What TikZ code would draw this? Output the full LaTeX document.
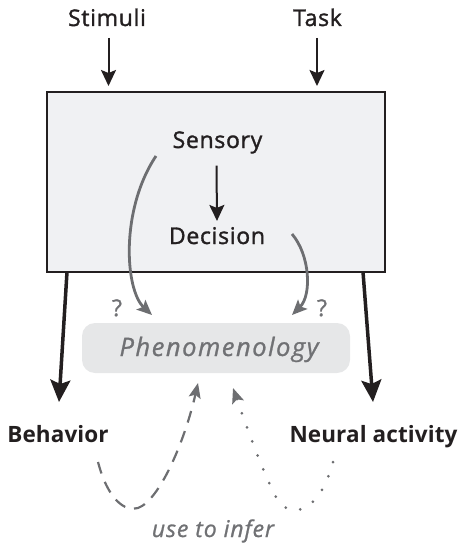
\documentclass[tikz,border=0pt]{standalone}
\usepackage{fontspec}
\setmainfont{Open Sans}
\newfontfamily\rfont{Open Sans}[LetterSpace=3,FakeBold=1.4]
\newfontfamily\ifont{Open Sans}[LetterSpace=6,FakeBold=1]
\newfontfamily\uifont{Open Sans}[LetterSpace=4,FakeBold=1]
\newfontfamily\bfont{Open Sans}[LetterSpace=0.5]
\usetikzlibrary{arrows.meta,calc}
\definecolor{boxfill}{HTML}{F0F1F3}
\definecolor{phenfill}{HTML}{E6E7E8}
\definecolor{curvegray}{HTML}{6D6E71}
\definecolor{textgray}{HTML}{707174}
\definecolor{ink}{HTML}{231F20}
\tikzset{
  lbl/.style={anchor=base,inner sep=0pt,font=\rfont\fontsize{23}{26}\selectfont,text=ink},
  blbl/.style={lbl,font=\bfont\fontsize{22.5}{26}\selectfont\bfseries},
  qlbl/.style={lbl,text=textgray},
  thin arrow/.style={draw=ink,line width=2pt,-{Stealth[length=16pt,width=15pt,inset=3pt]}},
  thick arrow/.style={draw=ink,line width=3.5pt,-{Stealth[length=22pt,width=20pt,inset=4pt]}},
  gray arrow/.style={draw=curvegray,line width=2.8pt,-{Stealth[length=15pt,width=13pt,inset=3pt]}},
  infer line/.style={draw=curvegray,line width=2.2pt,-{Stealth[length=15pt,width=12pt,inset=3pt]}},
}
\begin{document}
\begin{tikzpicture}[x=1pt,y=-1pt]
\useasboundingbox (0,0) rectangle (459,543);
% main box
\node[draw=ink,fill=boxfill,line width=2.5pt,minimum width=338pt,minimum height=180pt,inner sep=0pt] (box) at (216,182) {};
% top labels
\node[lbl] (stim) at (107,26) {Stimuli};
\node[lbl] (task) at (317.5,26) {Task};
\coordinate (stimtip) at (108.5,86);
\coordinate (tasktip) at (317,86);
\draw[thin arrow] (108.5,38) -- (stimtip);
\draw[thin arrow] (317,38) -- (tasktip);
% inner labels
\node[lbl] (sens) at (217.5,148) {Sensory};
\node[lbl] (dec) at (217,244) {Decision};
\draw[thin arrow] ($(sens.south)+(-1,12)$) -- ($(dec.north)+(0,-6)$);
% phenomenology
\node[fill=phenfill,rounded corners=13pt,minimum width=268pt,minimum height=50pt,inner sep=0pt] (phen) at (216,348) {};
\node[anchor=base,inner sep=0pt,font=\ifont\fontsize{25.5}{28}\selectfont\itshape,text=textgray] (phent) at (219,356) {Phenomenology};
% gray curves
\coordinate (s1) at (156,156);
\coordinate (s1tip) at (152,315);
\coordinate (d1) at (292,234);
\coordinate (d1tip) at (292,315);
\draw[gray arrow] (s1) .. controls (120,210) and (125,290) .. (s1tip);
\draw[gray arrow] (d1) .. controls (310,255) and (312,295) .. (d1tip);
\node[qlbl] (q1) at (117,316) {?};
\node[qlbl] (q2) at (322,316) {?};
% outputs
\node[blbl] (beh) at (58,442) {Behavior};
\node[blbl] (neu) at (373.5,442) {Neural activity};
\coordinate (bl) at (67,272);
\coordinate (br) at (363,272);
\draw[thick arrow] (bl) -- (59,402);
\draw[thick arrow] (br) -- (373,402);
% inference curves
\coordinate (da) at (98,462);
\coordinate (dtip) at (198,383);
\coordinate (pa) at (333,462);
\coordinate (ptip) at (233,388);
\draw[infer line,dash pattern=on 12pt off 9pt] (da) .. controls (108,500) and (125,512) .. (138,508) .. controls (160,500) and (185,440) .. (dtip);
\draw[infer line,line width=3pt,line cap=round,dash pattern=on 0pt off 15pt] (pa) .. controls (320,512) and (290,522) .. (276,497) .. controls (262,470) and (246,425) .. (ptip);
\node[lbl,font=\uifont\fontsize{23}{26}\selectfont\itshape,text=textgray] (infer) at (213,537) {use to infer};
\end{tikzpicture}
\end{document}
